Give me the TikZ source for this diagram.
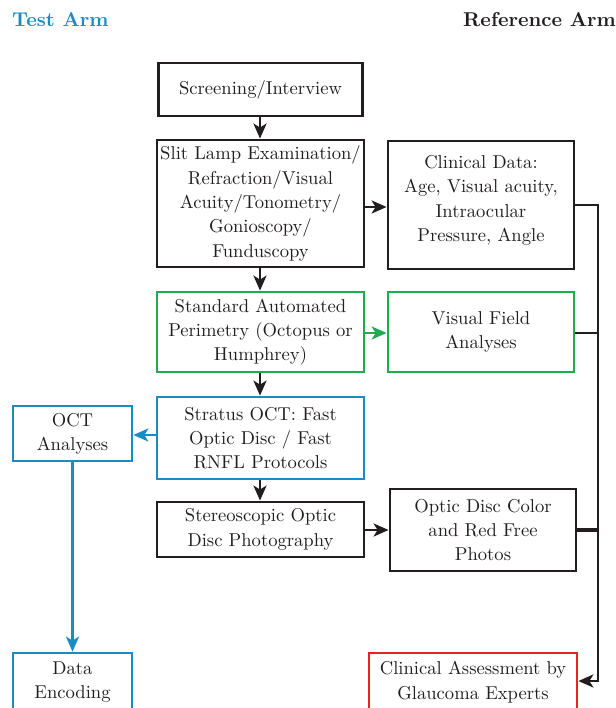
\documentclass[tikz,border=0pt]{standalone}
\usepackage{fontspec}
\setmainfont{lmroman10-regular.otf}[BoldFont=lmroman10-bold.otf]
\usetikzlibrary{arrows.meta,calc}
\definecolor{tblue}{RGB}{24,140,196}
\definecolor{tgreen}{RGB}{30,172,78}
\definecolor{tred}{RGB}{232,32,40}
\definecolor{ink}{RGB}{34,30,31}
\begin{document}
\begin{tikzpicture}[x=1pt,y=-1pt,
  box/.style={draw=ink, line width=2.8pt, inner sep=0pt, align=center, text=ink,
    font=\fontsize{18.6}{24.3}\selectfont},
  txt/.style={inner sep=0pt, align=center, text=ink, font=\fontsize{18.6}{24.3}\selectfont},
  gbox/.style={box, draw=tgreen, line width=2.7pt},
  bbox/.style={box, draw=tblue, line width=2.7pt},
  rbox/.style={box, draw=tred, line width=2.7pt},
  head/.style={inner sep=0pt, font=\fontsize{20}{24}\selectfont\bfseries},
  tip/.style={-{Stealth[length=15pt,width=13pt,inset=4pt]}},
  arr/.style={line width=2.8pt, draw=ink, tip},
  garr/.style={line width=2.8pt, draw=tgreen, tip},
  barr/.style={line width=2.8pt, draw=tblue, tip},
  bus/.style={line width=2.8pt, draw=ink}
]
\useasboundingbox (0,0) rectangle (615,708);

\node[head, text=tblue, anchor=base west] (ta) at (12,27) {Test Arm};
\node[head, text=ink, anchor=base east] (ra) at (616,27) {Reference Arm};

\node[box, minimum width=204, minimum height=53] (scr) at (260.5,89.5) {Screening/Interview};
\node[box, minimum width=207, minimum height=127] (slit) at (260.5,203.5)
  {Slit Lamp Examination/\\Refraction/Visual\\Acuity/Tonometry/\\Gonioscopy/\\Funduscopy};
\node[box, minimum width=186, minimum height=128] (clin) at (481,205) {};
\node[txt] (clint) at (481,200.5)
  {Clinical Data:\\Age, Visual acuity,\\Intraocular\\Pressure, Angle};
\node[gbox, minimum width=207, minimum height=80] (sap) at (260.5,332)
  {Standard Automated\\Perimetry (Octopus or\\Humphrey)};
\node[gbox, minimum width=186, minimum height=80] (vf) at (481,332)
  {Visual Field\\Analyses};
\node[bbox, minimum width=207, minimum height=82] (str) at (260.5,438)
  {Stratus OCT: Fast\\Optic Disc / Fast\\RNFL Protocols};
\node[bbox, minimum width=119, minimum height=55] (oct) at (72.5,433.5)
  {OCT\\Analyses};
\node[box, minimum width=207, minimum height=55] (ste) at (260.5,529.5)
  {Stereoscopic Optic\\Disc Photography};
\node[box, minimum width=186, minimum height=82] (od) at (483,530)
  {Optic Disc Color\\and Red Free\\Photos};
\node[bbox, minimum width=119, minimum height=58] (de) at (72.5,682)
  {Data\\Encoding};
\node[rbox, minimum width=208, minimum height=58] (ca) at (473,682)
  {Clinical Assessment by\\Glaucoma Experts};

\draw[arr] (scr.south -| 260,0) -- (slit.north -| 260,0);
\draw[arr] (slit.south -| 260,0) -- (sap.north -| 260,0);
\draw[arr] (sap.south -| 260,0) -- (str.north -| 260,0);
\draw[arr] (str.south -| 260,0) -- (ste.north -| 260,0);
\draw[arr] (slit.east |- 0,207) -- (clin.west |- 0,207);
\draw[garr] (sap.east |- 0,333) -- (vf.west |- 0,333);
\draw[arr] (ste.east |- 0,530) -- (od.west |- 0,530);
\draw[barr] (str.west |- 0,435) -- (oct.east |- 0,435);
\draw[barr] (oct.south) -- (de.north);

\coordinate (b1) at (598,205);
\coordinate (b2) at (598,681);
\draw[bus] (clin.east |- b1) -- (b1);
\draw[bus] (vf.east |- 0,333) -- (598,333);
\draw[bus, line width=4.8pt] (od.east) -- (598,530);
\draw[bus] ($(b1)+(0,-1.4)$) -- (b2);
\draw[arr] ($(b2)+(1.4,0)$) -- (ca.east |- b2);
\end{tikzpicture}
\end{document}
